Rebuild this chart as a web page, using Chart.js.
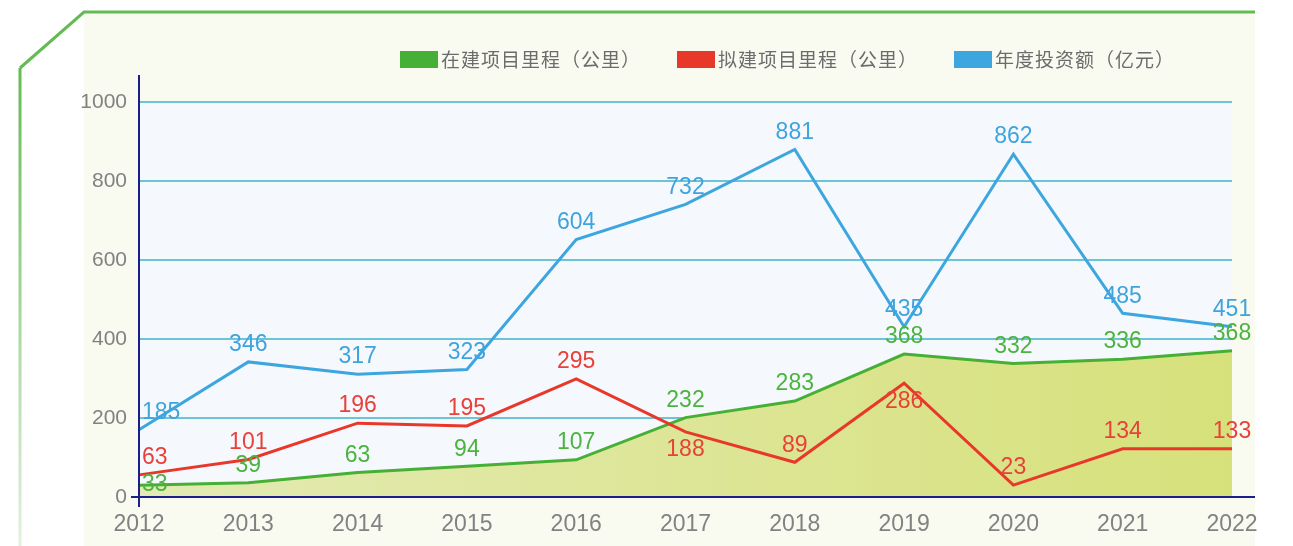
<!DOCTYPE html>
<html>
<head>
<meta charset="utf-8">
<script src="https://cdn.jsdelivr.net/npm/chart.js@4.4.1/dist/chart.umd.min.js"></script>
<style>
  html, body { margin: 0; padding: 0; background: #ffffff; }
  #wrap { position: relative; width: 1293px; height: 546px; }
  #legend {
    position: absolute; left: 400px; top: 48px;
    display: flex; gap: 36px;
    font-family: "Noto Sans CJK SC", "Noto Sans", sans-serif;
    font-size: 19px; color: #6c6c6c; line-height: 22px;
    letter-spacing: 1px;
  }
  #legend .item { display: flex; align-items: center; }
  #legend .box { width: 38px; height: 17px; margin-right: 3px; }
</style>
</head>
<body>
<div id="wrap">
  <canvas id="trendChart" width="1293" height="546"></canvas>
  <div id="legend"></div>
</div>
<script>

// ─────────────────────────────────────
// DATA
// ─────────────────────────────────────

const years = ["2012", "2013", "2014", "2015", "2016", "2017", "2018", "2019", "2020", "2021", "2022"];

const seriesNames = ["在建项目里程（公里）", "拟建项目里程（公里）", "年度投资额（亿元）"];

// where the lines are drawn in the picture
const underConstruction = [30, 36, 62, 78, 94, 201, 243, 362, 338, 349, 370];
const planned = [56, 95, 187, 180, 299, 165, 88, 288, 30, 122, 122];
const investment = [170, 342, 311, 323, 652, 741, 880, 431, 868, 465, 431];

// the numbers printed next to each point
const underConstructionLabels = [33, 39, 63, 94, 107, 232, 283, 368, 332, 336, 368];
const plannedLabels = [63, 101, 196, 195, 295, 188, 89, 286, 23, 134, 133];
const investmentLabels = [185, 346, 317, 323, 604, 732, 881, 435, 862, 485, 451];

const yTicks = [0, 200, 400, 600, 800, 1000];

const GREEN = "#45b035";
const RED = "#e8382a";
const BLUE = "#3ea6de";


// ─────────────────────────────────────
// LEGEND (html)
// ─────────────────────────────────────

const legendColors = [GREEN, RED, BLUE];
const legendEl = document.getElementById("legend");

seriesNames.forEach((name, i) => {
    legendEl.innerHTML += `
        <div class="item">
            <span class="box" style="background:${legendColors[i]}"></span>
            <span>${name}</span>
        </div>`;
});


// ─────────────────────────────────────
// BACKGROUND PANEL + AXES + VALUE LABELS
// ─────────────────────────────────────

const decorPlugin = {
    id: "decor",
    beforeDraw(chart) {
        const { ctx, chartArea } = chart;
        ctx.save();

        // cream panel
        ctx.fillStyle = "#f9faf0";
        ctx.fillRect(84, 12, 1255 - 84, 546 - 12);

        // plot background
        ctx.fillStyle = "#f5f9fe";
        ctx.fillRect(chartArea.left, chartArea.top,
            chartArea.right - chartArea.left, chartArea.bottom - chartArea.top);

        // green frame, left side fades out
        const side = ctx.createLinearGradient(0, 68, 0, 546);
        side.addColorStop(0, "#64bb55");
        side.addColorStop(1, "#e3f1df");
        ctx.lineWidth = 3;
        ctx.strokeStyle = side;
        ctx.beginPath();
        ctx.moveTo(20, 546);
        ctx.lineTo(20, 68);
        ctx.stroke();

        ctx.strokeStyle = "#64bb55";
        ctx.beginPath();
        ctx.moveTo(20, 68);
        ctx.lineTo(84, 12);
        ctx.lineTo(1255, 12);
        ctx.stroke();

        ctx.restore();
    },
    afterDatasetsDraw(chart) {
        const { ctx, chartArea } = chart;
        ctx.save();

        // axis lines
        ctx.strokeStyle = "#1c1f8a";
        ctx.lineWidth = 2;
        ctx.beginPath();
        ctx.moveTo(chartArea.left, 75);
        ctx.lineTo(chartArea.left, chartArea.bottom + 10);
        ctx.moveTo(chartArea.left - 8, chartArea.bottom);
        ctx.lineTo(1255, chartArea.bottom);
        ctx.stroke();

        // value labels
        ctx.font = "23px 'Liberation Sans', Arial, sans-serif";
        ctx.textBaseline = "middle";

        chart.data.datasets.forEach((ds, i) => {
            const meta = chart.getDatasetMeta(i);
            ctx.fillStyle = ds.labelColor;

            meta.data.forEach((pt, j) => {
                const text = String(ds.valueLabels[j]);
                const w = ctx.measureText(text).width;
                let x = pt.x - w / 2;
                if (x < chartArea.left) x = chartArea.left + 3;

                let y = pt.y - 17;
                if (ds.labelsBelow.includes(j)) y = pt.y + 18;
                if (ds.labelsOn.includes(j)) y = pt.y;

                ctx.textAlign = "left";
                ctx.fillText(text, x, y);
            });
        });

        ctx.restore();
    }
};


// ─────────────────────────────────────
// LINE CHART
// ─────────────────────────────────────

new Chart(document.getElementById("trendChart"), {

    type: "line",

    data: {

        labels: years,

        datasets: [
            {
                label: seriesNames[2],
                data: investment,
                valueLabels: investmentLabels,
                labelsBelow: [],
                labelsOn: [],
                labelColor: "#3fa3dc",
                borderColor: BLUE,
                borderWidth: 3,
                pointRadius: 0,
                tension: 0,
                fill: false,
                order: 1
            },
            {
                label: seriesNames[1],
                data: planned,
                valueLabels: plannedLabels,
                labelsBelow: [5, 7],
                labelsOn: [],
                labelColor: "#e8413a",
                borderColor: RED,
                borderWidth: 3,
                pointRadius: 0,
                tension: 0,
                fill: false,
                order: 2
            },
            {
                label: seriesNames[0],
                data: underConstruction,
                valueLabels: underConstructionLabels,
                labelsBelow: [],
                labelsOn: [0],
                labelColor: "#4cb33e",
                borderColor: GREEN,
                borderWidth: 3,
                pointRadius: 0,
                tension: 0,
                fill: "origin",
                backgroundColor: function(context) {
                    const { ctx, chartArea } = context.chart;
                    if (!chartArea) return "#dfe8a4";
                    const g = ctx.createLinearGradient(chartArea.left, 0, chartArea.right, 0);
                    g.addColorStop(0, "#e3eab3");
                    g.addColorStop(1, "#d7e17b");
                    return g;
                },
                order: 3
            }
        ]
    },

    options: {

        responsive: false,
        animation: false,

        layout: {
            padding: { left: 0, right: 61, top: 102, bottom: 0 }
        },

        plugins: {
            legend: { display: false },
            tooltip: { enabled: false }
        },

        scales: {

            x: {
                offset: false,
                grid: { display: false, drawTicks: false },
                border: { display: false },
                ticks: {
                    color: "#828282",
                    font: { size: 23, family: "'Liberation Sans', Arial, sans-serif" },
                    padding: 14,
                    maxRotation: 0,
                    autoSkip: false
                },
                afterFit: function(scale) {
                    scale.height = 49;
                }
            },

            y: {
                min: 0,
                max: 1000,
                afterBuildTicks: function(scale) {
                    scale.ticks = yTicks.map(v => ({ value: v }));
                },
                grid: {
                    color: "#6cc5d6",
                    lineWidth: 2,
                    drawTicks: false
                },
                border: { display: false },
                ticks: {
                    color: "#828282",
                    font: { size: 21, family: "'Liberation Sans', Arial, sans-serif" },
                    padding: 12,
                    callback: function(value) {
                        return String(value);
                    }
                },
                afterFit: function(scale) {
                    scale.width = 139;
                }
            }
        }
    },

    plugins: [decorPlugin]
});

</script>
</body>
</html>
